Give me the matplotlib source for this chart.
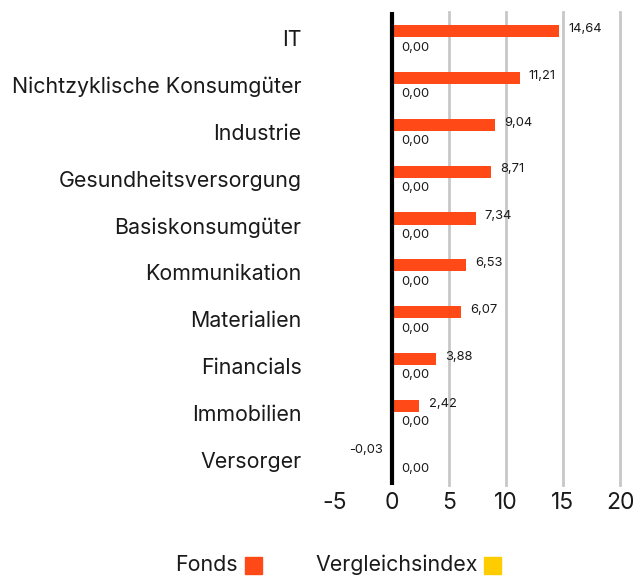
import matplotlib.pyplot as plt
from matplotlib.patches import Rectangle

# ------------------------------------------------------------
# Data
# ------------------------------------------------------------
sectors = ["IT", "Nichtzyklische Konsumgüter", "Industrie", "Gesundheitsversorgung",
           "Basiskonsumgüter", "Kommunikation", "Materialien", "Financials",
           "Immobilien", "Versorger"]
fonds = [14.64, 11.21, 9.04, 8.71, 7.34, 6.53, 6.07, 3.88, 2.42, -0.03]
index_vals = [0.00] * len(sectors)
x_ticks = [-5, 0, 5, 10, 15, 20]

c_fonds = "#FF4A17"
c_index = "#FFCC00"
font = "Inter"
plt.rcParams["font.family"] = [font, "DejaVu Sans"]

def fmt(v):
    return f"{v:.2f}".replace(".", ",")

# ------------------------------------------------------------
# Plot
# ------------------------------------------------------------
fig = plt.figure(figsize=(6.33, 5.79), dpi=100)
ax = fig.add_axes([0.529, 0.1623, 0.4505, 0.8169])

ypos = list(range(len(sectors)))
off, h = 0.15, 0.26
ax.barh([y - off for y in ypos], fonds, height=h, color=c_fonds, zorder=3)
ax.barh([y + off for y in ypos], index_vals, height=h, color=c_index, zorder=3)

for y, v in zip(ypos, fonds):
    if v >= 0:
        ax.text(v + 0.8, y - off - 0.05, fmt(v), ha="left", va="center", fontsize=9.3, color="#1a1a1a")
    else:
        ax.text(v - 0.8, y - off - 0.05, fmt(v), ha="right", va="center", fontsize=9.3, color="#1a1a1a")
for y, v in zip(ypos, index_vals):
    ax.text(v + 0.8, y + off + 0.05, fmt(v), ha="left", va="center", fontsize=9.3, color="#1a1a1a")

ax.set_xlim(-5, 20)
ax.set_ylim(9.54, -0.56)

for t in x_ticks[2:]:
    ax.axvline(t, color="#c8c8c8", lw=2, zorder=1, clip_on=False)
ax.axvline(0, color="black", lw=3, zorder=4)

ax.set_xticks(x_ticks)
ax.set_xticklabels([str(t) for t in x_ticks], fontsize=16.5, color="#1a1a1a")
ax.set_yticks(ypos)
ax.set_yticklabels(sectors, fontsize=15.4, color="#1a1a1a")
ax.tick_params(length=0, axis="x", pad=5)
ax.tick_params(length=0, axis="y", pad=24)
for s in ax.spines.values():
    s.set_visible(False)

# legend
fig.text(175 / 633, 1 - 565 / 579, "Fonds", fontsize=15.4, ha="left", va="center", color="#1a1a1a")
fig.patches.append(Rectangle((245 / 633, 1 - 574 / 579), 17 / 633, 17 / 579,
                             transform=fig.transFigure, color=c_fonds))
fig.text(315 / 633, 1 - 565 / 579, "Vergleichsindex", fontsize=15.4, ha="left", va="center", color="#1a1a1a")
fig.patches.append(Rectangle((484 / 633, 1 - 574 / 579), 17 / 633, 17 / 579,
                             transform=fig.transFigure, color=c_index))

fig.savefig("out.png", dpi=100)
